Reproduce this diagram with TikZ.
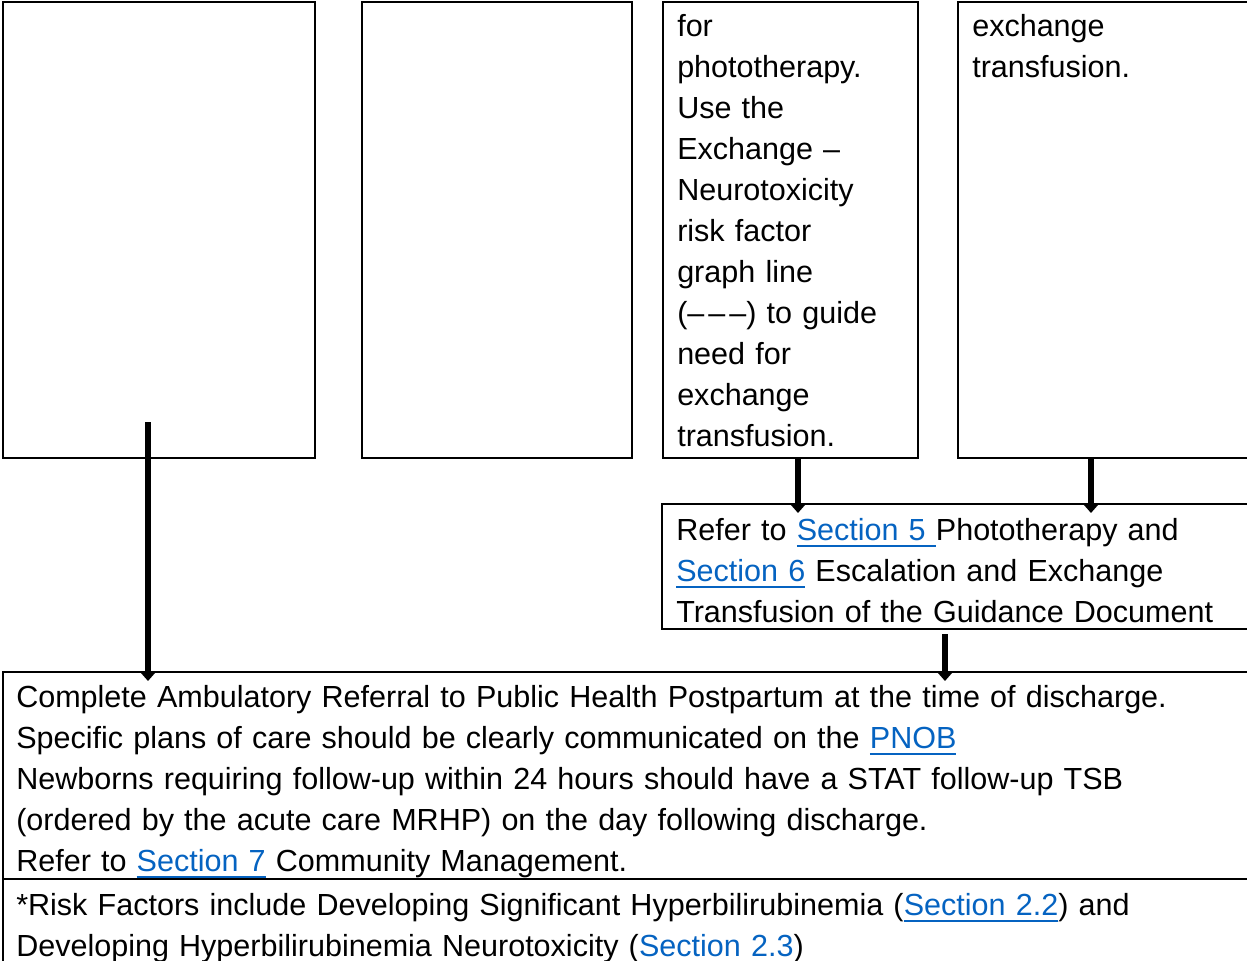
\documentclass[tikz,border=0pt]{standalone}
\usepackage{fontspec}
\setmainfont{Liberation Sans}
\usetikzlibrary{arrows.meta, calc}

\definecolor{linkblue}{HTML}{0563C1}
% blue underlined link text
\newcommand\lnk[1]{\leavevmode{\color{linkblue}\setbox0\hbox{#1}\rlap{\rule[-5.25pt]{\wd0}{1.5pt}}\box0}}

\begin{document}
\begin{tikzpicture}[x=0.75pt, y=-0.75pt,
        font=\fontsize{22.9}{30.75}\selectfont]
        \tikzset{box/.style={draw, line width=1.5pt, anchor=north west, inner sep=0pt},
                 txt/.style={anchor=base west, inner sep=0pt, align=left, text width=#1},
                 flow/.style={line width=5pt, -{Triangle[length=6.5pt,width=11pt]}}}
        \useasboundingbox (0,0) rectangle (1247,961);
        \clip (0,0) rectangle (1247,961);

        % upper row
        \node[box, minimum width=312*0.75pt, minimum height=456*0.75pt] (A) at (2,1) {};
        \node[box, minimum width=270*0.75pt, minimum height=456*0.75pt] (B) at (361,1) {};
        \node[box, minimum width=255*0.75pt, minimum height=456*0.75pt] (C) at (662,1) {};
        \node[box, minimum width=320*0.75pt, minimum height=456*0.75pt] (D) at (957,1) {};
        \node[txt=235*0.75pt] (Ctext) at (677,36) {for\\ phototherapy.\\ Use the\\ Exchange --\\
            Neurotoxicity\\ risk factor\\ graph line\\ (–\kern3pt–\kern3pt–) to guide\\ need for\\
            exchange\\ transfusion.};
        \node[txt=260*0.75pt] (Dtext) at (972,36) {exchange\\ transfusion.};

        % guidance reference
        \node[box, minimum width=620*0.75pt, minimum height=125*0.75pt] (E) at (661,503) {};
        \node[txt=570*0.75pt] (Etext) at (676,540) {Refer to \lnk{Section 5 }Phototherapy and\\
            \lnk{Section 6} Escalation and Exchange\\ Transfusion of the Guidance Document};

        % discharge and footnote
        \node[box, minimum width=1280*0.75pt, minimum height=207*0.75pt] (F) at (2,671) {};
        \node[txt=1220*0.75pt] (Ftext) at (16,707) {Complete Ambulatory Referral to Public Health Postpartum at the time of discharge.\\
            Specific plans of care should be clearly communicated on the \lnk{PNOB}\\
            Newborns requiring follow-up within 24 hours should have a STAT follow-up TSB\\
            (ordered by the acute care MRHP) on the day following discharge.\\
            Refer to \lnk{Section 7} Community Management.};
        \node[box, minimum width=1280*0.75pt, minimum height=120*0.75pt] (G) at (2,878) {};
        \node[txt=1220*0.75pt] (Gtext) at (16,915) {*Risk Factors include Developing Significant Hyperbilirubinemia (\lnk{Section 2.2}) and\\
            Developing Hyperbilirubinemia Neurotoxicity (\lnk{Section 2.3})};

        % connectors
        \coordinate (a1) at (148,422);
        \coordinate (x2) at (798,0);
        \coordinate (x3) at (1091,0);
        \coordinate (x4) at (945,0);
        \draw[flow] (a1) -- ($(F.north -| a1)+(0,10)$);
        \draw[flow] (C.south -| x2) -- ($(E.north -| x2)+(0,10)$);
        \draw[flow] (D.south -| x3) -- ($(E.north -| x3)+(0,10)$);
        \draw[flow] ($(E.south -| x4)+(0,4)$) -- ($(F.north -| x4)+(0,10)$);
\end{tikzpicture}
\end{document}
